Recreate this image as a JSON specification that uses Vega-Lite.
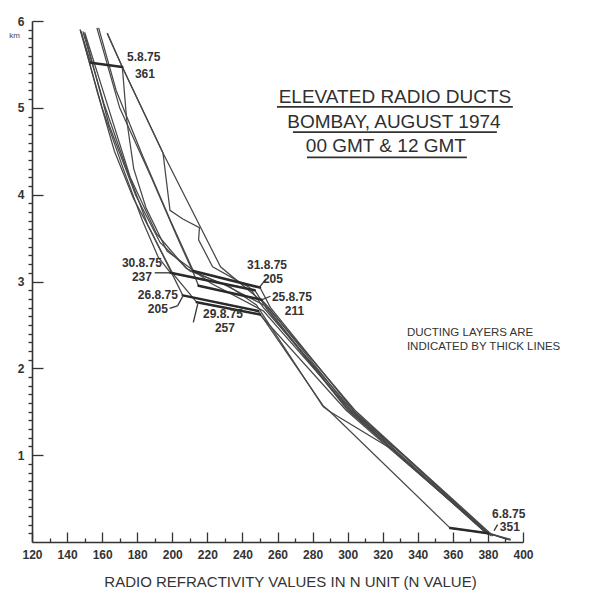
{
  "$schema": "https://vega.github.io/schema/vega-lite/v6.json",
  "autosize": "none",
  "width": 491,
  "height": 521,
  "padding": {"left": 32, "top": 21, "right": 71, "bottom": 52},
  "background": "#ffffff",
  "config": {"view": {"stroke": null}, "font": "Liberation Sans"},
  "resolve": {"axis": {"x": "independent", "y": "independent"}},
  "datasets": {
    "profiles": [
      {"id": "a", "i": 1, "N": 147.5, "h": 5.9}, {"id": "a", "i": 2, "N": 153.5, "h": 5.52}, {"id": "a", "i": 3, "N": 171.5, "h": 5.47}, {"id": "a", "i": 4, "N": 174, "h": 4.86}, {"id": "a", "i": 5, "N": 178, "h": 4.3}, {"id": "a", "i": 6, "N": 185, "h": 3.85}, {"id": "a", "i": 7, "N": 197, "h": 3.35}, {"id": "a", "i": 8, "N": 222, "h": 2.98}, {"id": "a", "i": 9, "N": 252, "h": 2.66}, {"id": "a", "i": 10, "N": 301, "h": 1.53}, {"id": "a", "i": 11, "N": 326, "h": 1.06}, {"id": "a", "i": 12, "N": 380, "h": 0.1}, {"id": "a", "i": 13, "N": 391, "h": 0.03},
      {"id": "b", "i": 1, "N": 162.8, "h": 5.86}, {"id": "b", "i": 2, "N": 171.5, "h": 5.47}, {"id": "b", "i": 3, "N": 194.7, "h": 4.48}, {"id": "b", "i": 4, "N": 198.7, "h": 3.82}, {"id": "b", "i": 5, "N": 206, "h": 3.72}, {"id": "b", "i": 6, "N": 215.5, "h": 3.62}, {"id": "b", "i": 7, "N": 215, "h": 3.48}, {"id": "b", "i": 8, "N": 223, "h": 3.17}, {"id": "b", "i": 9, "N": 244, "h": 2.93}, {"id": "b", "i": 10, "N": 252, "h": 2.7}, {"id": "b", "i": 11, "N": 303, "h": 1.51}, {"id": "b", "i": 12, "N": 327, "h": 1.06}, {"id": "b", "i": 13, "N": 381, "h": 0.08},
      {"id": "c", "i": 1, "N": 147.4, "h": 5.9}, {"id": "c", "i": 2, "N": 160, "h": 5.0}, {"id": "c", "i": 3, "N": 172, "h": 4.3}, {"id": "c", "i": 4, "N": 183, "h": 3.7}, {"id": "c", "i": 5, "N": 192, "h": 3.28}, {"id": "c", "i": 6, "N": 199, "h": 3.1}, {"id": "c", "i": 7, "N": 247, "h": 2.9}, {"id": "c", "i": 8, "N": 254, "h": 2.68}, {"id": "c", "i": 9, "N": 300, "h": 1.52}, {"id": "c", "i": 10, "N": 324, "h": 1.09}, {"id": "c", "i": 11, "N": 379, "h": 0.11},
      {"id": "d", "i": 1, "N": 158, "h": 5.92}, {"id": "d", "i": 2, "N": 168, "h": 5.2}, {"id": "d", "i": 3, "N": 183, "h": 4.45}, {"id": "d", "i": 4, "N": 199, "h": 3.7}, {"id": "d", "i": 5, "N": 212, "h": 3.12}, {"id": "d", "i": 6, "N": 250, "h": 2.93}, {"id": "d", "i": 7, "N": 256, "h": 2.7}, {"id": "d", "i": 8, "N": 304, "h": 1.5}, {"id": "d", "i": 9, "N": 329, "h": 1.05}, {"id": "d", "i": 10, "N": 382, "h": 0.07},
      {"id": "e", "i": 1, "N": 148, "h": 5.88}, {"id": "e", "i": 2, "N": 157, "h": 5.2}, {"id": "e", "i": 3, "N": 167, "h": 4.5}, {"id": "e", "i": 4, "N": 178, "h": 3.95}, {"id": "e", "i": 5, "N": 187.3, "h": 3.6}, {"id": "e", "i": 6, "N": 206, "h": 2.84}, {"id": "e", "i": 7, "N": 249, "h": 2.66}, {"id": "e", "i": 8, "N": 286, "h": 1.57}, {"id": "e", "i": 9, "N": 290, "h": 1.5}, {"id": "e", "i": 10, "N": 326, "h": 1.06}, {"id": "e", "i": 11, "N": 378, "h": 0.12}, {"id": "e", "i": 12, "N": 393, "h": 0.02},
      {"id": "f", "i": 1, "N": 149, "h": 5.88}, {"id": "f", "i": 2, "N": 161, "h": 5.05}, {"id": "f", "i": 3, "N": 173, "h": 4.35}, {"id": "f", "i": 4, "N": 186, "h": 3.65}, {"id": "f", "i": 5, "N": 200, "h": 3.1}, {"id": "f", "i": 6, "N": 214, "h": 2.76}, {"id": "f", "i": 7, "N": 250, "h": 2.62}, {"id": "f", "i": 8, "N": 299, "h": 1.52}, {"id": "f", "i": 9, "N": 322, "h": 1.11}, {"id": "f", "i": 10, "N": 380, "h": 0.1},
      {"id": "g", "i": 1, "N": 157, "h": 5.92}, {"id": "g", "i": 2, "N": 170, "h": 5.0}, {"id": "g", "i": 3, "N": 188, "h": 4.2}, {"id": "g", "i": 4, "N": 203, "h": 3.5}, {"id": "g", "i": 5, "N": 212, "h": 3.1}, {"id": "g", "i": 6, "N": 215, "h": 2.95}, {"id": "g", "i": 7, "N": 251, "h": 2.79}, {"id": "g", "i": 8, "N": 255, "h": 2.7}, {"id": "g", "i": 9, "N": 302, "h": 1.51}, {"id": "g", "i": 10, "N": 330, "h": 1.03}, {"id": "g", "i": 11, "N": 381, "h": 0.09},
      {"id": "h", "i": 1, "N": 150, "h": 5.85}, {"id": "h", "i": 2, "N": 164, "h": 4.8}, {"id": "h", "i": 3, "N": 179, "h": 4.0}, {"id": "h", "i": 4, "N": 193, "h": 3.45}, {"id": "h", "i": 5, "N": 210, "h": 3.12}, {"id": "h", "i": 6, "N": 232, "h": 2.95}, {"id": "h", "i": 7, "N": 248, "h": 2.73}, {"id": "h", "i": 8, "N": 286, "h": 1.56}, {"id": "h", "i": 9, "N": 290, "h": 1.5}, {"id": "h", "i": 10, "N": 358.5, "h": 0.16}, {"id": "h", "i": 11, "N": 380, "h": 0.1}, {"id": "h", "i": 12, "N": 393, "h": 0.03},
      {"id": "i", "i": 1, "N": 150, "h": 5.87}, {"id": "i", "i": 2, "N": 162, "h": 5.1}, {"id": "i", "i": 3, "N": 176, "h": 4.2}, {"id": "i", "i": 4, "N": 191, "h": 3.55}, {"id": "i", "i": 5, "N": 208, "h": 3.15}, {"id": "i", "i": 6, "N": 230, "h": 2.96}, {"id": "i", "i": 7, "N": 253, "h": 2.72}, {"id": "i", "i": 8, "N": 300, "h": 1.53}, {"id": "i", "i": 9, "N": 325, "h": 1.08}, {"id": "i", "i": 10, "N": 380, "h": 0.09},
      {"id": "j", "i": 1, "N": 163, "h": 5.86}, {"id": "j", "i": 2, "N": 171.5, "h": 5.47}, {"id": "j", "i": 3, "N": 194.7, "h": 4.48}, {"id": "j", "i": 4, "N": 227.5, "h": 3.17}, {"id": "j", "i": 5, "N": 253, "h": 2.74}, {"id": "j", "i": 6, "N": 304, "h": 1.52}, {"id": "j", "i": 7, "N": 330, "h": 1.04}, {"id": "j", "i": 8, "N": 383, "h": 0.07}
    ],
    "ducts": [
      {"N": 153.5, "h": 5.52, "N2": 171.5, "h2": 5.47},
      {"N": 199, "h": 3.1, "N2": 247, "h2": 2.9},
      {"N": 212, "h": 3.12, "N2": 250, "h2": 2.93},
      {"N": 206, "h": 2.84, "N2": 249, "h2": 2.66},
      {"N": 214, "h": 2.76, "N2": 250, "h2": 2.62},
      {"N": 215, "h": 2.95, "N2": 251, "h2": 2.79},
      {"N": 358.5, "h": 0.16, "N2": 380, "h2": 0.1}
    ],
    "leaders": [
      {"N": 190, "h": 3.1, "N2": 198.5, "h2": 3.1},
      {"N": 250, "h": 2.94, "N2": 253.5, "h2": 3.03},
      {"N": 251, "h": 2.79, "N2": 256, "h2": 2.83},
      {"N": 198.5, "h": 2.69, "N2": 203, "h2": 2.72},
      {"N": 203, "h": 2.72, "N2": 206, "h2": 2.83},
      {"N": 212, "h": 2.53, "N2": 214.5, "h2": 2.74},
      {"N": 383.5, "h": 0.13, "N2": 385.5, "h2": 0.2}
    ],
    "underlines": [
      {"N": 259.7, "h": 5.01, "N2": 394.2, "h2": 5.01},
      {"N": 268.8, "h": 4.72, "N2": 385.1, "h2": 4.72},
      {"N": 276.8, "h": 4.43, "N2": 368, "h2": 4.43}
    ],
    "labelsLeft": [
      {"N": 174.2, "h": 5.58, "text": "5.8.75"},
      {"N": 178.7, "h": 5.39, "text": "361"},
      {"N": 242.6, "h": 3.19, "text": "31.8.75"},
      {"N": 251.7, "h": 3.03, "text": "205"},
      {"N": 256.8, "h": 2.82, "text": "25.8.75"},
      {"N": 264.2, "h": 2.66, "text": "211"},
      {"N": 217.5, "h": 2.62, "text": "29.8.75"},
      {"N": 224.3, "h": 2.47, "text": "257"},
      {"N": 382.3, "h": 0.32, "text": "6.8.75"},
      {"N": 386.8, "h": 0.17, "text": "351"}
    ],
    "labelsRight": [
      {"N": 194.1, "h": 3.21, "text": "30.8.75"},
      {"N": 188.4, "h": 3.05, "text": "237"},
      {"N": 203.2, "h": 2.85, "text": "26.8.75"},
      {"N": 197.5, "h": 2.68, "text": "205"}
    ],
    "titleLines": [
      {"N": 327, "h": 5.06, "text": "ELEVATED RADIO DUCTS"},
      {"N": 326.4, "h": 4.77, "text": "BOMBAY, AUGUST 1974"},
      {"N": 321.8, "h": 4.49, "text": "00 GMT & 12 GMT"}
    ],
    "noteLines": [
      {"N": 333.8, "h": 2.41, "text": "DUCTING LAYERS ARE"},
      {"N": 333.8, "h": 2.24, "text": "INDICATED BY THICK LINES"}
    ]
  },
  "layer": [
    {
      "data": {"name": "profiles"},
      "mark": {"type": "line", "stroke": "#474747", "strokeWidth": 1.25},
      "encoding": {
        "x": {
          "field": "N", "type": "quantitative",
          "scale": {"domain": [120, 400], "nice": false, "zero": false},
          "axis": {
            "orient": "bottom",
            "values": [120, 140, 160, 180, 200, 220, 240, 260, 280, 300, 320, 340, 360, 380, 400],
            "format": "d",
            "tickSize": -10,
            "tickColor": "#333", "tickWidth": 1.3,
            "domainColor": "#333", "domainWidth": 1.6,
            "grid": false,
            "labelPadding": 17, "labelFontSize": 12, "labelFontWeight": "bold", "labelColor": "#333",
            "labelFlush": false, "labelOverlap": false,
            "title": "RADIO REFRACTIVITY VALUES IN N UNIT (N VALUE)",
            "titleFontSize": 15, "titleFontWeight": "normal", "titleColor": "#333",
            "titleBaseline": "alphabetic", "titleAnchor": "middle", "titleX": 258, "titleY": 44
          }
        },
        "y": {
          "field": "h", "type": "quantitative",
          "scale": {"domain": [0, 6], "nice": false},
          "axis": {
            "orient": "left",
            "values": [1, 2, 3, 4, 5, 6],
            "format": "d",
            "tickSize": -11,
            "tickColor": "#333", "tickWidth": 1.3,
            "domainColor": "#333", "domainWidth": 1.6,
            "grid": false,
            "labelPadding": 19, "labelFontSize": 12, "labelFontWeight": "bold", "labelColor": "#333",
            "labelFlush": false, "labelOverlap": false,
            "title": "km", "titleAngle": 0, "titleFontSize": 8, "titleFontWeight": "normal", "titleColor": "#444",
            "titleX": -18, "titleY": 16, "titleAlign": "center", "titleBaseline": "alphabetic"
          }
        },
        "detail": {"field": "id"},
        "order": {"field": "i", "type": "quantitative"}
      }
    },
    {
      "data": {"name": "ducts"},
      "mark": {"type": "rule", "stroke": "#2a2a2a", "strokeWidth": 2.5, "strokeCap": "round"},
      "encoding": {
        "x": {
          "field": "N", "type": "quantitative",
          "axis": {
            "orient": "bottom",
            "values": [130, 150, 170, 190, 210, 230, 250, 270, 290, 310, 330, 350, 370, 390],
            "tickSize": -4, "tickColor": "#333", "tickWidth": 1.3,
            "domain": false, "labels": false, "grid": false, "title": null
          }
        },
        "x2": {"field": "N2"},
        "y": {
          "field": "h", "type": "quantitative",
          "axis": {
            "orient": "left",
            "values": [0.1, 0.2, 0.3, 0.4, 0.5, 0.6, 0.7, 0.8, 0.9, 1.1, 1.2, 1.3, 1.4, 1.5, 1.6, 1.7, 1.8, 1.9, 2.1, 2.2, 2.3, 2.4, 2.5, 2.6, 2.7, 2.8, 2.9, 3.1, 3.2, 3.3, 3.4, 3.5, 3.6, 3.7, 3.8, 3.9, 4.1, 4.2, 4.3, 4.4, 4.5, 4.6, 4.7, 4.8, 4.9, 5.1, 5.2, 5.3, 5.4, 5.5, 5.6, 5.7, 5.8, 5.9],
            "tickSize": 4, "tickColor": "#333", "tickWidth": 1.3,
            "domain": false, "labels": false, "grid": false, "title": null
          }
        },
        "y2": {"field": "h2"}
      }
    },
    {
      "data": {"name": "leaders"},
      "mark": {"type": "rule", "stroke": "#333", "strokeWidth": 1.3},
      "encoding": {
        "x": {"field": "N", "type": "quantitative", "axis": null},
        "x2": {"field": "N2"},
        "y": {"field": "h", "type": "quantitative", "axis": null},
        "y2": {"field": "h2"}
      }
    },
    {
      "data": {"name": "underlines"},
      "mark": {"type": "rule", "stroke": "#333", "strokeWidth": 1.8},
      "encoding": {
        "x": {"field": "N", "type": "quantitative", "axis": null},
        "x2": {"field": "N2"},
        "y": {"field": "h", "type": "quantitative", "axis": null},
        "y2": {"field": "h2"}
      }
    },
    {
      "data": {"name": "labelsLeft"},
      "mark": {"type": "text", "align": "left", "baseline": "middle", "fontSize": 12, "fontWeight": "bold", "fill": "#333"},
      "encoding": {
        "x": {"field": "N", "type": "quantitative", "axis": null},
        "y": {"field": "h", "type": "quantitative", "axis": null},
        "text": {"field": "text"}
      }
    },
    {
      "data": {"name": "labelsRight"},
      "mark": {"type": "text", "align": "right", "baseline": "middle", "fontSize": 12, "fontWeight": "bold", "fill": "#333"},
      "encoding": {
        "x": {"field": "N", "type": "quantitative", "axis": null},
        "y": {"field": "h", "type": "quantitative", "axis": null},
        "text": {"field": "text"}
      }
    },
    {
      "data": {"name": "titleLines"},
      "mark": {"type": "text", "align": "center", "baseline": "alphabetic", "fontSize": 19, "fontWeight": "normal", "fill": "#2f2f2f"},
      "encoding": {
        "x": {"field": "N", "type": "quantitative", "axis": null},
        "y": {"field": "h", "type": "quantitative", "axis": null},
        "text": {"field": "text"}
      }
    },
    {
      "data": {"name": "noteLines"},
      "mark": {"type": "text", "align": "left", "baseline": "middle", "fontSize": 11.5, "fontWeight": "normal", "fill": "#333"},
      "encoding": {
        "x": {"field": "N", "type": "quantitative", "axis": null},
        "y": {"field": "h", "type": "quantitative", "axis": null},
        "text": {"field": "text"}
      }
    }
  ]
}
